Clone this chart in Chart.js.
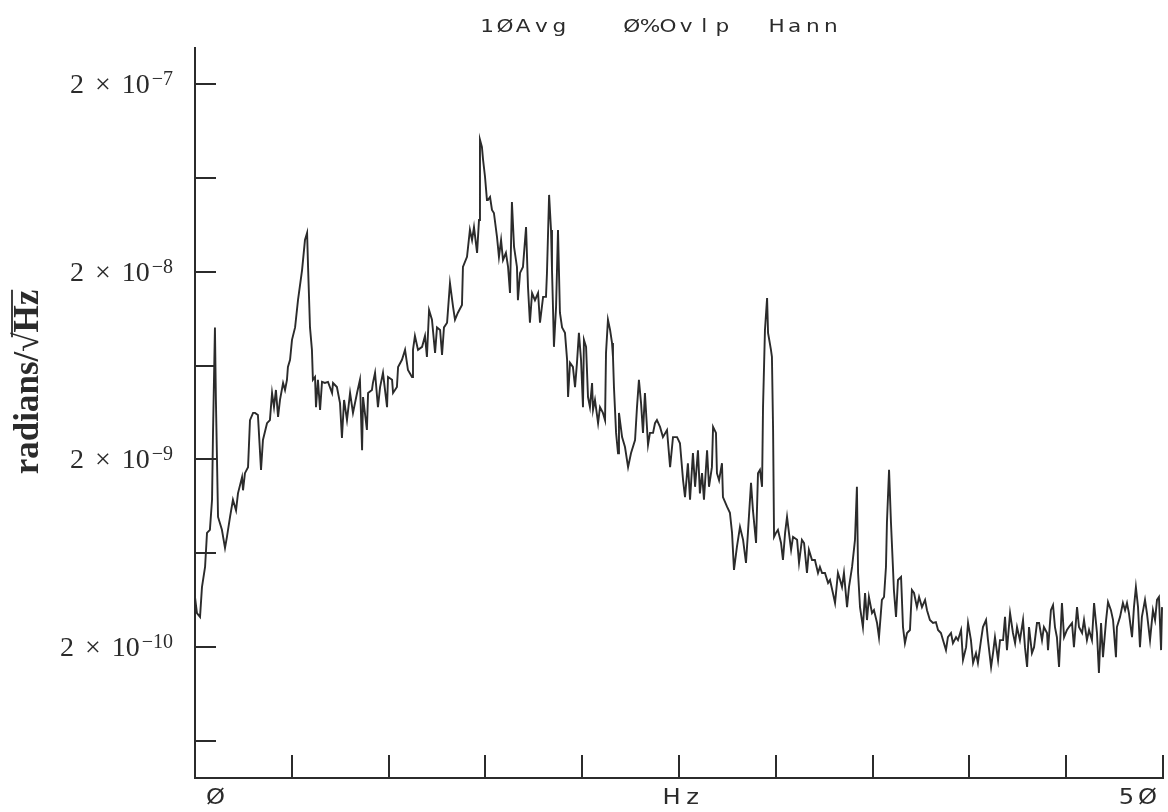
<!DOCTYPE html>
<html><head><meta charset="utf-8">
<script src="https://cdn.jsdelivr.net/npm/chart.js@4"></script>
<style>html,body{margin:0;padding:0;background:#fff;}#wrap{width:1168px;height:812px;}</style>
</head><body><div id="wrap"><canvas id="c" width="1168" height="812"></canvas></div>
<script>
// ---- data (Hz, radians/sqrt(Hz)) ----
const freqHz = [
0.00,0.10,0.26,0.36,0.52,0.62,0.77,0.88,0.93,1.03,
1.08,1.19,1.39,1.55,1.65,1.81,1.96,2.12,2.22,2.43,
2.48,2.58,2.74,2.84,3.00,3.10,3.25,3.41,3.51,3.72,
3.87,3.98,4.08,4.18,4.29,4.39,4.55,4.65,4.75,4.80,
4.91,5.01,5.17,5.32,5.53,5.68,5.79,5.84,5.94,6.04,
6.09,6.20,6.25,6.35,6.46,6.56,6.71,6.87,7.08,7.13,
7.33,7.49,7.59,7.70,7.85,8.01,8.16,8.37,8.52,
8.63,8.68,8.88,8.94,9.14,9.19,9.30,9.45,9.56,9.71,
9.92,9.97,10.18,10.23,10.43,10.49,10.69,10.85,11.00,11.21,
11.26,11.36,11.52,11.73,11.88,11.98,12.09,12.24,12.40,12.50,
12.66,12.76,12.86,13.02,13.17,13.33,13.43,13.58,13.79,13.84,
14.05,14.20,14.31,14.41,14.57,14.67,14.72,14.82,14.88,14.98,
15.08,15.13,15.24,15.34,15.44,15.60,15.70,15.81,15.91,16.06,
16.17,16.27,16.37,16.48,16.63,16.68,16.79,
16.94,17.10,17.20,17.30,17.41,17.56,17.72,17.82,17.98,18.13,
18.18,18.29,18.39,18.44,18.49,18.54,18.65,18.75,18.85,18.96,
19.11,19.22,19.27,19.37,19.52,19.63,19.73,19.83,19.94,20.04,
20.09,20.20,20.30,20.40,20.51,20.56,20.66,20.82,20.92,21.07,
21.18,21.23,21.33,21.44,21.54,21.59,21.64,21.75,21.85,21.90,
22.06,22.21,22.37,22.52,22.73,22.83,22.93,23.04,23.14,23.24,
23.40,23.50,23.66,23.76,23.86,24.02,24.17,24.38,24.54,24.69,
24.90,25.05,25.21,25.31,25.46,25.57,25.72,25.83,25.98,26.08,
26.19,26.29,26.45,26.55,26.70,26.76,26.91,26.96,27.07,27.22,
27.27,27.48,27.63,27.74,27.84,27.99,28.15,28.31,28.46,28.56,
28.72,28.82,28.98,29.08,29.18,29.29,29.34,29.44,29.55,29.60,
29.75,29.80,29.86,29.91,30.01,30.11,30.27,30.37,30.48,30.58,
30.68,30.79,30.89,31.10,31.20,31.35,31.46,31.61,31.71,31.87,
32.02,32.18,32.28,32.39,32.54,32.70,32.80,32.95,33.06,33.21,
33.32,33.42,33.52,33.68,33.78,33.94,
34.09,34.19,34.25,34.35,34.50,34.61,34.71,34.81,34.97,35.07,
35.23,35.33,35.48,35.59,35.69,35.74,35.85,35.95,36.05,36.10,
36.21,36.31,36.47,36.57,36.67,36.78,36.93,37.03,37.14,37.29,
37.40,37.55,37.71,37.81,37.96,38.12,38.27,38.38,38.53,38.64,
38.79,38.89,39.05,39.15,39.31,39.41,39.57,39.67,39.83,39.93,
40.08,40.19,40.34,40.44,40.60,40.70,40.86,40.96,41.12,41.22,
41.32,41.48,41.58,41.74,41.84,41.94,42.10,42.25,42.36,42.46,
42.61,42.77,42.87,42.98,43.08,43.23,43.34,43.49,43.60,43.75,
43.85,44.01,44.06,44.21,44.32,44.42,44.52,44.63,44.78,44.89,
45.04,45.14,45.30,45.40,45.56,45.66,45.82,45.92,46.07,46.18,
46.33,46.44,46.59,46.69,46.80,46.90,47.06,47.16,47.31,47.42,
47.57,47.62,47.78,47.93,48.04,48.14,48.24,48.40,48.50,48.60,
48.71,48.81,48.91,49.07,49.17,49.33,49.48,49.59,49.69,49.79,49.90,49.95
];
const amplitude = [
3.70e-10,3.04e-10,2.90e-10,4.18e-10,5.35e-10,8.13e-10,8.44e-10,1.22e-9,2.77e-9,1.01e-8,
4.15e-9,9.88e-10,8.44e-10,6.76e-10,7.74e-10,9.88e-10,1.22e-9,1.07e-9,1.32e-9,1.61e-9,
1.37e-9,1.69e-9,1.82e-9,3.24e-9,3.54e-9,3.54e-9,3.45e-9,1.76e-9,2.54e-9,3.12e-9,
3.24e-9,4.52e-9,3.80e-9,4.69e-9,3.37e-9,4.15e-9,5.11e-9,4.69e-9,5.31e-9,6.22e-9,
6.79e-9,8.67e-9,1.01e-8,1.41e-8,2.04e-8,2.95e-8,3.22e-8,2.12e-8,1.01e-8,7.67e-9,
5.31e-9,5.50e-9,3.80e-9,5.31e-9,3.67e-9,5.18e-9,5.11e-9,5.18e-9,4.52e-9,5.11e-9,
4.86e-9,3.99e-9,2.60e-9,4.15e-9,3.24e-9,4.52e-9,3.54e-9,4.52e-9,5.31e-9,
2.24e-9,4.30e-9,2.87e-9,4.52e-9,4.69e-9,5.11e-9,5.79e-9,3.80e-9,4.86e-9,5.79e-9,
3.80e-9,5.50e-9,5.31e-9,4.52e-9,4.86e-9,6.22e-9,6.79e-9,7.67e-9,5.99e-9,5.50e-9,
7.67e-9,9.10e-9,7.67e-9,7.96e-9,9.10e-9,7.04e-9,1.25e-8,1.11e-8,7.39e-9,1.01e-8,
9.79e-9,7.21e-9,1.01e-8,1.07e-8,1.74e-8,1.30e-8,1.11e-8,1.21e-8,1.33e-8,2.12e-8,
2.40e-8,3.34e-8,2.95e-8,3.46e-8,2.52e-8,3.77e-8,1.01e-7,9.25e-8,7.88e-8,6.41e-8,
4.82e-8,4.82e-8,5.00e-8,4.27e-8,4.11e-8,3.06e-8,2.40e-8,2.95e-8,2.31e-8,2.52e-8,
2.12e-8,1.54e-8,4.70e-8,2.71e-8,2.12e-8,1.41e-8,1.97e-8,
2.12e-8,3.46e-8,1.66e-8,1.07e-8,1.54e-8,1.41e-8,1.54e-8,1.07e-8,1.47e-8,1.47e-8,
1.97e-8,5.13e-8,3.34e-8,2.04e-8,1.30e-8,7.96e-9,1.30e-8,3.34e-8,1.21e-8,1.01e-8,
9.45e-9,6.79e-9,4.30e-9,6.54e-9,6.22e-9,4.86e-9,6.54e-9,9.45e-9,6.79e-9,3.80e-9,
8.67e-9,7.96e-9,4.30e-9,3.80e-9,5.11e-9,3.67e-9,4.15e-9,3.12e-9,3.80e-9,3.54e-9,
3.24e-9,7.39e-9,1.11e-8,9.79e-9,8.35e-9,7.04e-9,4.86e-9,2.77e-9,2.16e-9,3.54e-9,
2.63e-9,2.33e-9,1.82e-9,2.16e-9,2.54e-9,3.80e-9,5.31e-9,3.99e-9,2.77e-9,4.52e-9,
2.39e-9,2.77e-9,2.77e-9,3.12e-9,3.24e-9,2.98e-9,2.63e-9,2.87e-9,1.82e-9,2.63e-9,
2.63e-9,2.44e-9,1.55e-9,1.26e-9,1.91e-9,1.22e-9,2.16e-9,1.43e-9,2.24e-9,1.32e-9,
1.69e-9,1.22e-9,2.24e-9,1.43e-9,1.82e-9,2.98e-9,2.77e-9,1.69e-9,1.55e-9,1.91e-9,
1.26e-9,1.12e-9,1.04e-9,8.13e-10,5.16e-10,6.83e-10,8.74e-10,7.46e-10,5.62e-10,8.13e-10,
1.50e-9,1.07e-9,7.18e-10,1.69e-9,1.76e-9,1.43e-9,3.80e-9,9.79e-9,1.45e-8,9.45e-9,
7.67e-9,7.04e-9,2.87e-9,7.74e-10,8.13e-10,8.44e-10,7.18e-10,5.83e-10,8.13e-10,9.88e-10,
8.13e-10,6.60e-10,7.74e-10,7.46e-10,5.62e-10,7.46e-10,7.18e-10,4.97e-10,6.60e-10,5.83e-10,
5.83e-10,4.97e-10,5.35e-10,4.97e-10,4.97e-10,4.39e-10,4.56e-10,3.89e-10,3.44e-10,4.97e-10,
4.56e-10,4.18e-10,4.97e-10,3.27e-10,4.18e-10,5.35e-10,
7.46e-10,1.43e-9,4.97e-10,3.27e-10,2.56e-10,3.89e-10,2.79e-10,3.70e-10,3.04e-10,3.15e-10,
2.69e-10,2.26e-10,3.57e-10,3.70e-10,5.35e-10,9.18e-10,1.76e-9,9.18e-10,5.35e-10,4.03e-10,
2.90e-10,4.56e-10,4.73e-10,2.56e-10,2.10e-10,2.38e-10,2.47e-10,4.03e-10,3.89e-10,3.27e-10,
3.70e-10,3.27e-10,3.57e-10,3.15e-10,2.79e-10,2.69e-10,2.72e-10,2.47e-10,2.38e-10,2.18e-10,
1.93e-10,2.26e-10,2.38e-10,2.10e-10,2.26e-10,2.18e-10,2.47e-10,1.71e-10,2.00e-10,2.69e-10,
2.18e-10,1.65e-10,1.86e-10,1.65e-10,2.18e-10,2.56e-10,2.79e-10,2.18e-10,1.57e-10,1.86e-10,
2.26e-10,1.71e-10,2.18e-10,2.18e-10,2.90e-10,1.93e-10,3.04e-10,2.38e-10,2.10e-10,2.56e-10,
2.18e-10,2.79e-10,2.00e-10,1.57e-10,2.56e-10,1.86e-10,2.00e-10,2.69e-10,2.69e-10,2.18e-10,
2.56e-10,2.38e-10,1.93e-10,3.15e-10,3.35e-10,2.56e-10,2.26e-10,1.57e-10,3.44e-10,2.26e-10,
2.47e-10,2.56e-10,2.69e-10,2.00e-10,3.27e-10,2.56e-10,2.38e-10,2.79e-10,2.18e-10,2.47e-10,
2.18e-10,3.44e-10,2.38e-10,1.46e-10,2.69e-10,1.77e-10,2.79e-10,3.48e-10,3.15e-10,2.79e-10,
1.77e-10,2.56e-10,2.90e-10,3.44e-10,3.15e-10,3.44e-10,3.04e-10,2.26e-10,3.27e-10,4.18e-10,
3.27e-10,2.00e-10,2.90e-10,3.57e-10,3.04e-10,2.18e-10,3.15e-10,2.79e-10,3.57e-10,3.70e-10,1.93e-10,3.27e-10
];
const titleText = "1ØAvg   Ø%Ovlp  Hann";
const yTickValues = [6.32e-11, 2e-10, 6.32e-10, 2e-9, 6.32e-9, 2e-8, 6.32e-8, 2e-7];
const yLabelExponents = [-10, -9, -8, -7];
const yLabelMantissa = 2;
const xMin = 0, xMax = 50, xTickStep = 5;
const yMin = 4.02e-11, yMax = 3.11e-7;
const xLabelValues = [0, 25, 50];
const xLabelTexts = ["Ø", "Hz", "5Ø"];
const yAxisTitle = ["radians/", "√", "Hz"];

const INK = '#2b2b2b';

function stretchedChar(ctx, ch, cx, base, sx) {
  ctx.save();
  ctx.translate(cx, base);
  ctx.scale(sx, 1);
  ctx.fillText(ch, 0, 0);
  ctx.restore();
}

const textPlugin = {
  id: 'plotterText',
  afterDraw(chart) {
    const ctx = chart.ctx;
    const xs = chart.scales.x, ys = chart.scales.y;
    ctx.save();
    ctx.fillStyle = INK;
    ctx.strokeStyle = INK;

    // title, fixed-pitch plotter lettering
    ctx.font = '18px "DejaVu Sans"';
    ctx.textAlign = 'center';
    ctx.textBaseline = 'alphabetic';
    const pitchT = 18.1, startT = 478;
    [...titleText].forEach((ch, i) => {
      if (ch !== ' ') stretchedChar(ctx, ch, startT + i * pitchT + 9, 32, 1.2);
    });

    // x labels
    ctx.font = '22px "DejaVu Sans"';
    const pitchX = 21;
    xLabelValues.forEach((v, k) => {
      const chars = [...xLabelTexts[k]];
      const w = chars.length * pitchX;
      let left;
      const px = xs.getPixelForValue(v);
      if (k === 0) left = px + 10;
      else if (k === xLabelValues.length - 1) left = px - 5 - w;
      else left = px + 3 - w / 2;
      chars.forEach((ch, i) => stretchedChar(ctx, ch, left + i * pitchX + pitchX / 2, 804, 1.1));
    });

    // y labels: 2 × 10^n
    const rightEdge = 173;
    yLabelExponents.forEach(e => {
      const v = yLabelMantissa * Math.pow(10, e);
      const py = ys.getPixelForValue(v);
      const expStr = '\u2212' + Math.abs(e);
      ctx.textAlign = 'left';
      ctx.font = '20px "Liberation Serif"';
      const ew = ctx.measureText(expStr).width;
      let x = rightEdge - ew;
      ctx.fillText(expStr, x, py + 1);
      ctx.font = '28px "Liberation Serif"';
      const w10 = ctx.measureText('10').width;
      x -= w10 + 2;
      ctx.fillText('10', x, py + 9);
      const wx = ctx.measureText('\u00d7').width;
      x -= wx + 11;
      ctx.fillText('\u00d7', x, py + 9);
      const w2 = ctx.measureText(String(yLabelMantissa)).width;
      x -= w2 + 11;
      ctx.fillText(String(yLabelMantissa), x, py + 9);
    });

    // y axis title, rotated, with radical overline
    ctx.save();
    ctx.translate(38, 382);
    ctx.rotate(-Math.PI / 2);
    ctx.font = 'bold 35px "Liberation Serif"';
    ctx.textAlign = 'left';
    const widths = yAxisTitle.map(s => ctx.measureText(s).width);
    const total = widths.reduce((a, b) => a + b, 0);
    let tx = -total / 2;
    yAxisTitle.forEach((s, i) => { ctx.fillText(s, tx, 0); tx += widths[i]; });
    const ovStart = -total / 2 + widths[0] + widths[1] * 0.75;
    ctx.lineWidth = 1.8;
    ctx.beginPath();
    ctx.moveTo(ovStart, -26);
    ctx.lineTo(tx, -26);
    ctx.stroke();
    ctx.restore();

    ctx.restore();
  }
};

new Chart(document.getElementById('c'), {
  type: 'scatter',
  data: {
    datasets: [{
      data: freqHz.map((f, i) => ({ x: f, y: amplitude[i] })),
      showLine: true,
      borderColor: INK,
      borderWidth: 1.9,
      pointRadius: 0,
      tension: 0
    }]
  },
  options: {
    responsive: false,
    animation: false,
    devicePixelRatio: 1,
    layout: { padding: { top: 48, right: 5, left: 0, bottom: 0 } },
    plugins: { legend: { display: false }, tooltip: { enabled: false }, title: { display: false } },
    scales: {
      x: {
        type: 'linear', min: xMin, max: xMax,
        border: { display: true, color: INK, width: 2 },
        grid: { drawOnChartArea: false, drawTicks: true, tickLength: -23, color: INK, lineWidth: 2 },
        ticks: { display: false, stepSize: xTickStep },
        afterFit(s) { s.height = 34; }
      },
      y: {
        type: 'logarithmic', min: yMin, max: yMax,
        border: { display: true, color: INK, width: 2 },
        grid: { drawOnChartArea: false, drawTicks: true, tickLength: -21, color: INK, lineWidth: 2 },
        ticks: { display: false },
        afterBuildTicks(s) { s.ticks = yTickValues.map(v => ({ value: v })); },
        afterFit(s) { s.width = 195; }
      }
    }
  },
  plugins: [textPlugin]
});
</script>
</body></html>
